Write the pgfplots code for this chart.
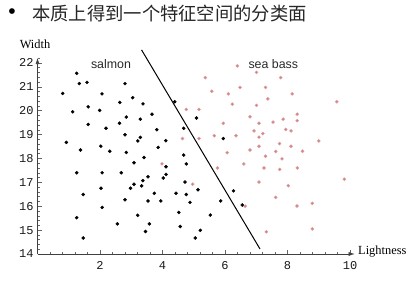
\documentclass[border=0pt]{standalone}
\usepackage{pgfplots}
\pgfplotsset{compat=1.18}
\usepackage{pgfplotstable}
\usetikzlibrary{arrows.meta}
\usepackage{fontspec}
\setmainfont{Liberation Serif}
\newfontfamily\helv{Liberation Sans}
\newfontfamily\mono{Liberation Mono}
\newfontfamily\cjk{Noto Sans CJK SC}
\definecolor{pinkdot}{RGB}{212,128,132}
\definecolor{txtgray}{RGB}{40,40,40}

\pgfplotstableread{
x y
1.254 21.56
1.338 21.13
1.584 21.18
2.800 21.13
0.806 20.72
2.064 20.70
3.046 20.54
2.634 20.34
3.376 20.28
4.390 20.37
1.126 19.95
1.622 20.16
1.990 20.01
3.664 19.85
2.842 19.73
3.290 19.64
2.624 19.47
5.088 19.69
1.622 19.42
2.192 19.26
3.818 19.20
4.678 19.26
2.800 18.99
0.922 18.67
3.290 18.88
3.210 18.73
4.106 18.74
5.946 18.83
2.026 18.51
1.376 18.35
2.314 18.30
3.862 18.46
2.842 18.25
4.678 18.14
3.408 18.04
1.254 17.40
2.067 17.40
2.682 17.40
3.088 17.82
4.762 17.77
4.112 17.65
3.536 17.23
4.112 17.33
4.026 17.18
3.370 17.07
3.088 16.92
2.976 16.75
3.334 16.85
4.720 17.01
2.032 16.75
1.462 16.49
3.738 16.54
4.432 16.54
4.762 16.49
5.136 16.69
2.800 16.27
3.536 16.22
3.946 16.22
4.880 16.16
5.862 16.22
6.272 16.64
6.554 16.05
2.070 15.95
4.522 15.74
5.530 15.63
1.254 15.52
3.206 15.62
2.554 15.26
3.578 15.26
4.566 15.15
5.210 14.99
3.456 14.94
1.462 14.67
5.050 14.67
}\salmon

\pgfplotstableread{
x y
6.394 21.87
7.008 21.60
7.782 21.38
5.370 21.38
5.578 20.81
6.106 20.70
6.480 20.97
7.296 20.97
8.150 20.70
7.370 20.49
6.234 20.27
7.008 20.22
9.578 20.37
4.762 20.05
5.168 20.05
8.310 19.85
6.800 19.74
7.862 19.64
8.310 19.58
7.536 19.52
7.088 19.47
5.946 19.47
7.942 19.21
8.112 19.15
6.928 19.15
7.210 19.04
5.658 18.95
6.352 18.95
7.088 18.89
4.640 18.83
5.168 18.83
9.002 18.73
7.744 18.62
6.070 18.24
6.800 18.35
7.088 18.51
8.112 18.51
7.622 18.29
8.480 18.30
7.296 18.09
7.824 17.98
3.984 17.77
4.966 16.92
5.760 17.60
6.602 17.77
7.248 17.60
7.088 17.01
7.750 17.54
8.314 17.60
8.026 16.86
7.622 16.37
6.646 16.00
8.304 16.01
8.794 16.12
9.818 17.13
7.322 14.93
8.794 15.05
}\seabass

\begin{document}
\begin{tikzpicture}[x=1pt,y=1pt]
\useasboundingbox (0,0) rectangle (419,285);
\node[anchor=center, font=\helv\fontsize{21}{21}\selectfont] at (12,271) {•};
\node[anchor=west, inner sep=0pt, text=black!85, font=\cjk\fontsize{18.3}{20}\selectfont] at (32,271) {本质上得到一个特征空间的分类面};
\node[anchor=center, inner sep=0pt, font=\fontsize{12.4}{12.4}\selectfont] at (35,241) {Width};
\node[anchor=west, inner sep=0pt, font=\fontsize{12.4}{12.4}\selectfont] at (358,33) {Lightness};
\begin{axis}[
  at={(37.5pt,31pt)}, anchor=south west,
  x=31.25pt, y=23.9pt,
  xmin=0, xmax=10.15, ymin=14, ymax=22.2,
  axis lines=left,
  axis line style={black!75, line width=0.6pt, -{Latex[length=6pt,width=4pt]}},
  clip=false,
  xtick={2,4,6,8,10}, ytick={14,15,...,22},
  minor xtick={0.4,0.8,...,10.0},
  minor ytick={14.2,14.4,...,22.1},
  tick align=inside,
  major tick length=4pt, minor tick length=2pt,
  every tick/.style={black!60, line width=0.4pt},
  /pgf/number format/assume math mode=true,
  ticklabel style={font=\mono\fontsize{12}{12}\selectfont, text=black!90},
  xticklabel style={yshift=-4pt},
  yticklabel style={xshift=-0.5pt},
]
\addplot[black, line width=1pt] coordinates {(3.33,22.54) (7.12,14.21)};
\addplot[only marks, mark=*, mark size=1.55pt, black] table {\salmon};
\addplot[only marks, mark=*, mark size=1.55pt, pinkdot, mark options={draw=pinkdot!75, fill=pinkdot}] table {\seabass};
\node[text=txtgray, font=\helv\fontsize{12.4}{12.4}\selectfont] at (axis cs:2.352,21.94) {salmon};
\node[text=txtgray, font=\helv\fontsize{12.4}{12.4}\selectfont] at (axis cs:7.546,21.94) {sea bass};
\end{axis}
\end{tikzpicture}
\end{document}
